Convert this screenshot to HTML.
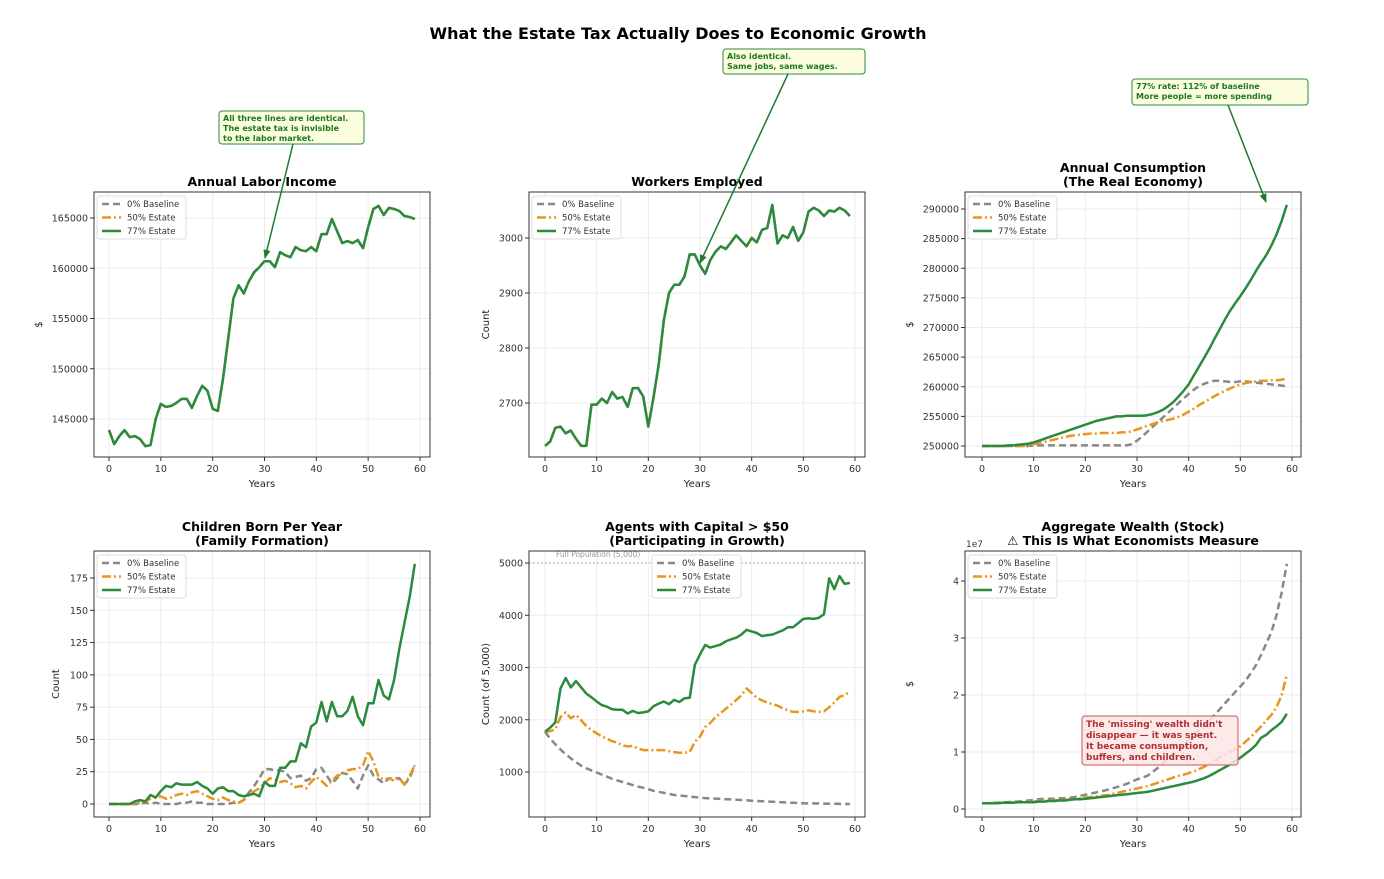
<!DOCTYPE html>
<html><head><meta charset="utf-8"><style>
body{margin:0;background:#fff;}
svg{display:block;font-family:"DejaVu Sans","Liberation Sans",sans-serif;}
</style></head><body>
<svg id="fig" width="1384" height="879" viewBox="0 0 1384 879">
<rect width="1384" height="879" fill="#fff"/>
<text x="678" y="39" text-anchor="middle" font-size="16" font-weight="bold">What the Estate Tax Actually Does to Economic Growth</text>
</svg>
<script>
const years=[];for(let i=0;i<60;i++)years.push(i);
const xTicks=[0,10,20,30,40,50,60];
const seriesNames=["0% Baseline","50% Estate","77% Estate"];
const laborIncome=[143900,142500,143300,143900,143200,143300,143000,142300,142400,145000,146500,146200,146300,146600,147000,147000,146100,147300,148300,147800,146000,145800,149000,153000,157000,158300,157500,158700,159600,160100,160700,160700,160100,161600,161300,161100,162100,161800,161700,162100,161700,163400,163400,164900,163700,162500,162700,162500,162800,162000,164100,165900,166200,165300,166000,165900,165700,165200,165100,164900];
const workers=[2622,2630,2655,2657,2645,2650,2635,2622,2622,2697,2697,2708,2700,2720,2708,2711,2693,2727,2727,2712,2657,2710,2770,2850,2900,2915,2915,2930,2970,2970,2950,2935,2960,2975,2985,2980,2992,3005,2995,2985,3000,2992,3015,3018,3060,2990,3005,3000,3020,2995,3010,3048,3055,3050,3040,3050,3048,3055,3050,3040];
const consBase=[250000,250000,250000,250000,250000,250000,250000,250000,250000,250000,250100,250100,250100,250100,250100,250100,250100,250100,250100,250100,250100,250100,250100,250100,250100,250100,250100,250100,250100,250300,250900,251600,252400,253200,254000,254800,255600,256400,257200,258000,258800,259500,260100,260500,260800,261000,261000,260900,260800,260800,260900,260900,260800,260700,260600,260500,260400,260300,260200,260100];
const cons50=[250000,250000,250000,250000,250000,250000,250000,250000,250000,250100,250300,250500,250700,250900,251100,251300,251500,251700,251800,251900,252000,252100,252100,252200,252200,252200,252200,252300,252300,252500,252800,253100,253400,253700,254000,254200,254400,254600,254900,255300,255800,256300,256900,257400,257900,258400,258900,259300,259700,260100,260400,260600,260800,260900,261000,261000,261100,261100,261200,261400];
const cons77=[250000,250000,250000,250000,250000,250100,250100,250200,250300,250400,250600,250900,251200,251500,251800,252100,252400,252700,253000,253300,253600,253900,254200,254400,254600,254800,255000,255000,255100,255100,255100,255100,255200,255400,255700,256100,256700,257400,258300,259300,260400,261900,263400,264900,266400,268100,269700,271300,272800,274100,275300,276600,278000,279500,280900,282200,283800,285700,288000,290700];
const kidsBase=[0,0,0,0,0,0,0,1,0,1,0,0,0,0,1,1,2,1,1,0,0,0,0,0,1,1,3,9,14,20,27,27,26,26,25,20,21,22,18,20,27,28,22,16,20,24,23,18,12,22,30,22,19,16,20,20,20,15,20,30];
const kids50=[0,0,0,0,0,0,1,2,4,5,6,4,5,7,8,7,9,10,8,6,4,3,5,3,2,1,3,7,10,12,16,20,19,17,18,16,13,14,12,17,21,18,14,18,22,23,26,27,27,30,41,33,21,19,20,18,20,15,22,30];
const kids77=[0,0,0,0,0,2,3,2,7,5,10,14,13,16,15,15,15,17,14,12,8,12,13,10,10,7,6,7,8,6,17,14,14,28,28,33,33,47,44,60,63,79,64,79,68,68,72,83,68,61,78,78,96,84,81,96,120,140,160,186];
const capBase=[1770,1640,1530,1430,1340,1260,1190,1120,1070,1030,990,950,910,870,840,810,780,750,720,700,670,640,620,600,580,560,550,540,530,520,510,500,495,490,485,480,475,470,465,460,450,445,440,435,430,425,420,415,410,405,400,400,400,398,396,394,392,390,388,388];
const cap50=[1770,1780,1820,2050,2140,2030,2090,1990,1880,1800,1740,1680,1640,1590,1560,1510,1490,1500,1450,1420,1420,1420,1420,1420,1400,1380,1370,1370,1380,1580,1680,1860,1940,2050,2130,2210,2290,2380,2460,2600,2510,2420,2370,2330,2300,2270,2220,2180,2150,2150,2160,2180,2160,2150,2160,2240,2330,2440,2470,2540];
const cap77=[1770,1850,1950,2600,2800,2620,2740,2620,2500,2430,2350,2280,2250,2200,2190,2190,2120,2170,2130,2140,2160,2260,2310,2350,2300,2380,2340,2410,2420,3050,3250,3430,3380,3410,3440,3500,3540,3570,3630,3720,3690,3660,3600,3620,3630,3670,3710,3770,3770,3850,3930,3940,3930,3950,4020,4710,4500,4750,4600,4620];
const wealthBase=[0.10,0.10,0.11,0.11,0.12,0.12,0.13,0.13,0.14,0.15,0.16,0.17,0.18,0.18,0.18,0.19,0.19,0.20,0.21,0.23,0.25,0.27,0.29,0.31,0.33,0.36,0.38,0.41,0.44,0.48,0.52,0.55,0.58,0.65,0.72,0.80,0.88,0.95,1.03,1.12,1.22,1.30,1.38,1.45,1.55,1.65,1.75,1.85,1.95,2.05,2.15,2.25,2.38,2.52,2.70,2.90,3.10,3.40,3.80,4.30];
const wealth50=[0.10,0.10,0.10,0.11,0.11,0.11,0.12,0.12,0.12,0.13,0.13,0.14,0.14,0.15,0.15,0.16,0.16,0.17,0.18,0.19,0.20,0.21,0.22,0.23,0.24,0.26,0.28,0.30,0.32,0.34,0.36,0.38,0.40,0.43,0.46,0.49,0.52,0.55,0.58,0.60,0.63,0.66,0.70,0.74,0.79,0.85,0.90,0.95,1.00,1.05,1.10,1.18,1.26,1.35,1.45,1.55,1.65,1.78,2.00,2.35];
const wealth77=[0.10,0.10,0.10,0.10,0.11,0.11,0.11,0.12,0.12,0.12,0.12,0.13,0.13,0.14,0.14,0.15,0.15,0.16,0.17,0.17,0.18,0.19,0.20,0.21,0.22,0.23,0.24,0.25,0.26,0.27,0.28,0.29,0.30,0.32,0.34,0.36,0.38,0.40,0.42,0.44,0.46,0.48,0.51,0.54,0.58,0.63,0.68,0.73,0.78,0.84,0.90,0.97,1.04,1.12,1.25,1.30,1.38,1.45,1.53,1.67];
const ticks1=[145000,150000,155000,160000,165000];
const ticks2=[2700,2800,2900,3000];
const ticks3=[250000,255000,260000,265000,270000,275000,280000,285000,290000];
const ticks4=[0,25,50,75,100,125,150,175];
const ticks5=[1000,2000,3000,4000,5000];
const ticks6=[0,1,2,3,4];

const NS="http://www.w3.org/2000/svg";
const fig=document.getElementById('fig');
function mk(tag,attrs,parent,text){const e=document.createElementNS(NS,tag);for(const k in attrs)e.setAttribute(k,attrs[k]);if(text!==undefined)e.textContent=text;(parent||fig).appendChild(e);return e;}
const styles=[{stroke:"#888",dash:"7,4",w:2.5},{stroke:"#e8961e",dash:"9,3,2,3",w:2.5},{stroke:"#2a8a3e",dash:"",w:2.5}];

function panel(o){
  const g=mk('g',{});
  
  
  const X=v=>o.x0px+(v-0)*(o.x60px-o.x0px)/60;
  const Y=v=>o.yApx+(v-o.yA)*(o.yBpx-o.yApx)/(o.yB-o.yA);
  xTicks.forEach(t=>{mk('line',{x1:X(t),x2:X(t),y1:o.top,y2:o.bot,stroke:"#ebebeb","stroke-width":1},g);});
  o.yt.forEach(t=>{mk('line',{x1:o.left,x2:o.right,y1:Y(t),y2:Y(t),stroke:"#ebebeb","stroke-width":1},g);});
  if(o.extra)o.extra(g,X,Y);
  o.series.forEach((s,i)=>{
    const d=years.map((yr,j)=>(j?'L':'M')+X(yr).toFixed(1)+','+Y(s[j]).toFixed(1)).join(' ');
    const p=mk('path',{d:d,fill:"none",stroke:styles[i].stroke,"stroke-width":styles[i].w,"stroke-dasharray":styles[i].dash,"stroke-linejoin":"round"},g);
    
    
  });
  mk('rect',{x:o.left,y:o.top,width:o.right-o.left,height:o.bot-o.top,fill:"none",stroke:"#333","stroke-width":1},g);
  xTicks.forEach(t=>{mk('line',{x1:X(t),x2:X(t),y1:o.bot,y2:o.bot+4,stroke:"#333"},g);
    const tl=mk('text',{x:X(t),y:o.bot+15,"text-anchor":"middle","font-size":9.5,fill:"#333"},g,String(t));
    });
  o.yt.forEach(t=>{mk('line',{x1:o.left-4,x2:o.left,y1:Y(t),y2:Y(t),stroke:"#333"},g);
    const tl=mk('text',{x:o.left-6,y:Y(t)+3.5,"text-anchor":"end","font-size":9.5,fill:"#333"},g,String(t));
    });
  const xl=mk('text',{x:(o.left+o.right)/2,y:o.bot+30,"text-anchor":"middle","font-size":10,fill:"#222"},g,"Years");
  
  const yl=mk('text',{x:o.ylx,y:(o.top+o.bot)/2,"text-anchor":"middle","font-size":10,fill:"#222",transform:`rotate(-90 ${o.ylx} ${(o.top+o.bot)/2})`},g,o.ylabel);
  
  o.title.forEach((t,i)=>{const tt=mk('text',{x:(o.left+o.right)/2,y:o.top-6-(o.title.length-1-i)*14,"text-anchor":"middle","font-size":12.5,"font-weight":"bold"},g,t);
    });
  const lx=o.legX,ly=o.legY;
  const lg=mk('g',{},g);
  
  mk('rect',{x:lx,y:ly,width:89,height:43,rx:3,fill:"#fff","fill-opacity":0.85,stroke:"#ddd"},lg);
  seriesNames.forEach((n,i)=>{const yy=ly+8+i*13.5;
    mk('line',{x1:lx+5,x2:lx+24,y1:yy,y2:yy,stroke:styles[i].stroke,"stroke-width":2.5,"stroke-dasharray":styles[i].dash},lg);
    const t=mk('text',{x:lx+30,y:yy+3,"font-size":8.5,fill:"#333"},lg,n);
    });
  return g;
}
const topR={top:192,bot:457}, botR={top:551,bot:817};
panel({name:'panel-labor-income',left:94,right:430,...topR,x0px:109,x60px:420,yA:145000,yApx:419,yB:165000,yBpx:218,yt:ticks1,series:[laborIncome,laborIncome,laborIncome],ylabel:"$",ylx:42,title:["Annual Labor Income"],legX:97,legY:196});
panel({name:'panel-workers',left:529,right:865,...topR,x0px:545,x60px:855,yA:2700,yApx:403,yB:3000,yBpx:238,yt:ticks2,series:[workers,workers,workers],ylabel:"Count",ylx:489,title:["Workers Employed"],legX:532,legY:196});
panel({name:'panel-consumption',left:965,right:1301,...topR,x0px:982,x60px:1292,yA:250000,yApx:446,yB:290000,yBpx:209,yt:ticks3,series:[consBase,cons50,cons77],ylabel:"$",ylx:913,title:["Annual Consumption","(The Real Economy)"],legX:968,legY:196});
panel({name:'panel-children',left:94,right:430,...botR,x0px:109,x60px:420,yA:0,yApx:804,yB:175,yBpx:578,yt:ticks4,series:[kidsBase,kids50,kids77],ylabel:"Count",ylx:59,title:["Children Born Per Year","(Family Formation)"],legX:97,legY:555});
panel({name:'panel-capital-agents',left:529,right:865,...botR,x0px:545,x60px:855,yA:1000,yApx:772,yB:5000,yBpx:563,yt:ticks5,series:[capBase,cap50,cap77],ylabel:"Count (of 5,000)",ylx:489,title:["Agents with Capital > $50","(Participating in Growth)"],legX:652,legY:555,
  extra:(g,X,Y)=>{mk('line',{x1:529,x2:865,y1:Y(5000),y2:Y(5000),stroke:"#999","stroke-dasharray":"1.5,2.5"},g);
    const t=mk('text',{x:556,y:Y(5000)-6,"font-size":7.5,fill:"#999"},g,"Full Population (5,000)");
    }});
panel({name:'panel-wealth',left:965,right:1301,...botR,x0px:982,x60px:1292,yA:0,yApx:809,yB:4,yBpx:581,yt:ticks6,series:[wealthBase,wealth50,wealth77],ylabel:"$",ylx:913,title:["Aggregate Wealth (Stock)","⚠ This Is What Economists Measure"],legX:968,legY:555});
const e7=mk('text',{x:966,y:547,"font-size":9,fill:"#333"},fig,"1e7");


mk('defs',{},fig).innerHTML='<marker id="ah" viewBox="0 0 10 10" refX="9" refY="5" markerWidth="6" markerHeight="6" orient="auto"><path d="M0,1 L10,5 L0,9 z" fill="#1e7a2e"/></marker>';
function note(name,x,y,w,h,lines,ax1,ay1,ax2,ay2){
  const g=mk('g',{});
  
  mk('line',{x1:ax1,y1:ay1,x2:ax2,y2:ay2,stroke:"#1e7a2e","stroke-width":1.5,"marker-end":"url(#ah)"},g);
  mk('rect',{x:x,y:y,width:w,height:h,rx:3,fill:"#fdfde0",stroke:"#2a8a3e","stroke-width":1},g);
  lines.forEach((l,i)=>mk('text',{x:x+4,y:y+10+i*10,"font-size":8,"font-weight":"bold",fill:"#1a7a1a"},g,l));
}
note('annotation-identical',219,111,145,33,["All three lines are identical.","The estate tax is invisible","to the labor market."],293,144,265,258);
note('annotation-also-identical',723,49,142,25,["Also identical.","Same jobs, same wages."],788,74,700,263);
note('annotation-112-percent',1132,79,176,26,["77% rate: 112% of baseline","More people = more spending"],1228,105,1266,202);
const rg=mk('g',{});

mk('rect',{x:1082,y:716,width:156,height:49,rx:3,fill:"#fbe6e6","fill-opacity":0.85,stroke:"#d05050"},rg);
["The 'missing' wealth didn't","disappear — it was spent.","It became consumption,","buffers, and children."].forEach((l,i)=>mk('text',{x:1086,y:727+i*11,"font-size":9,"font-weight":"bold",fill:"#b03030"},rg,l));
</script>
</body></html>
